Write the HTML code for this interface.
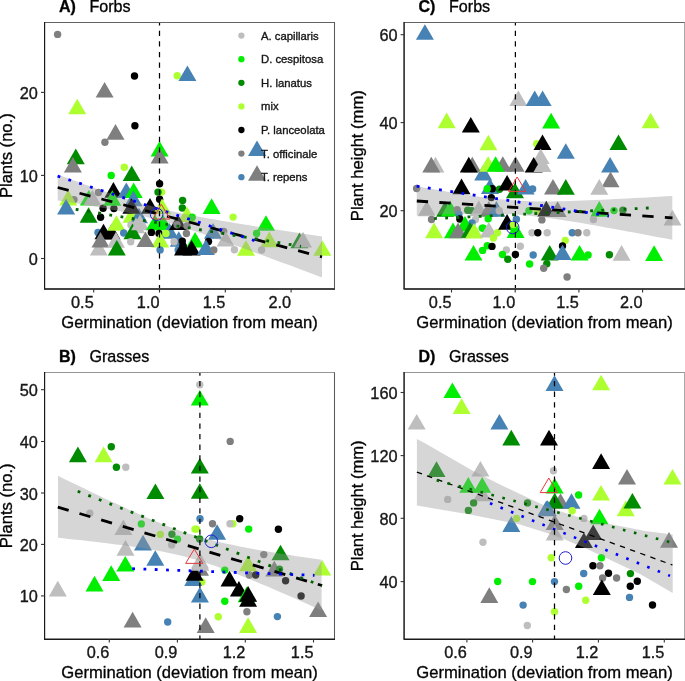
<!DOCTYPE html>
<html><head><meta charset="utf-8"><style>html,body{margin:0;padding:0;background:#fff;overflow:hidden}</style></head><body>
<svg width="685" height="681" viewBox="0 0 685 681" style="display:block;will-change:transform">
<style>text{stroke:#111;stroke-width:0.35px;stroke-linejoin:round}</style>
<rect width="685" height="681" fill="#fff"/>
<g id="panelA">
<clipPath id="clipA"><rect x="44.6" y="22.5" width="290.09999999999997" height="266.4"/></clipPath>
<g clip-path="url(#clipA)">
<circle cx="57.6" cy="34.4" r="3.7" fill="#7F7F7F"/>
<circle cx="134.5" cy="76.0" r="3.7" fill="#000000"/>
<polygon points="104.6,82.0 113.6,97.6 95.6,97.6" fill="#7F7F7F"/>
<polygon points="77.2,98.7 86.2,114.3 68.2,114.3" fill="#ADFF2F"/>
<circle cx="177.2" cy="75.7" r="3.7" fill="#ADFF2F"/>
<polygon points="187.4,65.5 196.4,81.1 178.4,81.1" fill="#4682B4"/>
<circle cx="134.9" cy="125.8" r="3.7" fill="#000000"/>
<polygon points="115.5,124.1 124.5,139.7 106.5,139.7" fill="#7F7F7F"/>
<circle cx="104.9" cy="142.3" r="3.7" fill="#7F7F7F"/>
<polygon points="75.8,148.6 84.8,164.2 66.8,164.2" fill="#008B00"/>
<polygon points="72.9,156.9 81.9,172.5 63.9,172.5" fill="#7F7F7F"/>
<circle cx="124.3" cy="167.2" r="3.7" fill="#ADFF2F"/>
<circle cx="111.2" cy="175.5" r="3.7" fill="#00EE00"/>
<polygon points="131.7,165.5 140.7,181.1 122.7,181.1" fill="#008B00"/>
<polygon points="159.6,141.0 168.6,156.6 150.6,156.6" fill="#00EE00"/>
<polygon points="159.6,148.0 168.6,163.6 150.6,163.6" fill="#7F7F7F"/>
<circle cx="159.6" cy="183.7" r="3.7" fill="#000000"/>
<circle cx="161.6" cy="192.1" r="3.7" fill="#ADFF2F"/>
<circle cx="158.0" cy="192.1" r="3.7" fill="#008B00"/>
<circle cx="159.6" cy="199.3" r="3.7" fill="#000000"/>
<circle cx="182.6" cy="200.4" r="3.7" fill="#008B00"/>
<circle cx="182.3" cy="208.0" r="3.7" fill="#008B00"/>
<polygon points="187.0,206.4 196.0,222.0 178.0,222.0" fill="#ADFF2F"/>
<polygon points="211.6,198.3 220.6,213.9 202.6,213.9" fill="#00EE00"/>
<circle cx="233.1" cy="217.1" r="3.7" fill="#ADFF2F"/>
<polygon points="266.0,215.2 275.0,230.8 257.0,230.8" fill="#00EE00"/>
<circle cx="256.6" cy="233.4" r="3.7" fill="#00EE00"/>
<polygon points="269.3,231.6 278.3,247.2 260.3,247.2" fill="#ADFF2F"/>
<circle cx="261.6" cy="250.0" r="3.7" fill="#BEBEBE"/>
<polygon points="299.5,232.6 308.5,248.2 290.5,248.2" fill="#008B00"/>
<polygon points="303.0,231.8 312.0,247.4 294.0,247.4" fill="#BEBEBE"/>
<polygon points="322.3,240.2 331.3,255.8 313.3,255.8" fill="#ADFF2F"/>
<polygon points="257.0,140.4 266.0,156.0 248.0,156.0" fill="#4682B4"/>
<polygon points="257.0,165.2 266.0,180.8 248.0,180.8" fill="#7F7F7F"/>
<circle cx="74.0" cy="199.6" r="3.7" fill="#7F7F7F"/>
<polygon points="68.2,189.9 77.2,205.5 59.2,205.5" fill="#ADFF2F"/>
<polygon points="66.1,198.8 75.1,214.4 57.1,214.4" fill="#4682B4"/>
<polygon points="88.8,189.9 97.8,205.5 79.8,205.5" fill="#00EE00"/>
<polygon points="92.4,189.9 101.4,205.5 83.4,205.5" fill="#BEBEBE"/>
<circle cx="98.5" cy="192.5" r="3.7" fill="#7F7F7F"/>
<polygon points="88.6,207.2 97.6,222.8 79.6,222.8" fill="#008B00"/>
<circle cx="103.1" cy="208.3" r="3.7" fill="#000000"/>
<circle cx="113.9" cy="208.6" r="3.7" fill="#000000"/>
<circle cx="100.6" cy="217.2" r="3.7" fill="#000000"/>
<polygon points="113.4,182.1 122.4,197.7 104.4,197.7" fill="#000000"/>
<polygon points="126.3,182.4 135.3,198.0 117.3,198.0" fill="#4682B4"/>
<polygon points="133.7,182.4 142.7,198.0 124.7,198.0" fill="#00EE00"/>
<polygon points="133.4,190.6 142.4,206.2 124.4,206.2" fill="#4682B4"/>
<polygon points="112.3,190.2 121.3,205.8 103.3,205.8" fill="#00EE00"/>
<circle cx="98.0" cy="232.5" r="3.7" fill="#4682B4"/>
<polygon points="103.5,223.7 112.5,239.3 94.5,239.3" fill="#000000"/>
<polygon points="111.5,223.9 120.5,239.5 102.5,239.5" fill="#000000"/>
<polygon points="116.4,215.2 125.4,230.8 107.4,230.8" fill="#ADFF2F"/>
<polygon points="131.5,207.1 140.5,222.7 122.5,222.7" fill="#ADFF2F"/>
<polygon points="139.0,207.7 148.0,223.3 130.0,223.3" fill="#4682B4"/>
<polygon points="131.4,198.2 140.4,213.8 122.4,213.8" fill="#000000"/>
<circle cx="123.7" cy="233.0" r="3.7" fill="#4682B4"/>
<polygon points="98.8,239.9 107.8,255.5 89.8,255.5" fill="#BEBEBE"/>
<polygon points="100.5,231.9 109.5,247.5 91.5,247.5" fill="#7F7F7F"/>
<polygon points="115.9,232.1 124.9,247.7 106.9,247.7" fill="#BEBEBE"/>
<circle cx="131.0" cy="225.0" r="3.7" fill="#BEBEBE"/>
<polygon points="136.0,217.6 145.0,233.2 127.0,233.2" fill="#BEBEBE"/>
<polygon points="132.5,223.6 141.5,239.2 123.5,239.2" fill="#008B00"/>
<circle cx="130.7" cy="241.8" r="3.7" fill="#BEBEBE"/>
<polygon points="116.8,239.9 125.8,255.5 107.8,255.5" fill="#008B00"/>
<polygon points="140.0,214.6 149.0,230.2 131.0,230.2" fill="#BEBEBE"/>
<polygon points="150.0,198.1 159.0,213.7 141.0,213.7" fill="#000000"/>
<polygon points="162.1,198.5 171.1,214.1 153.1,214.1" fill="#ADFF2F"/>
<polygon points="155.0,214.6 164.0,230.2 146.0,230.2" fill="#00EE00"/>
<polygon points="163.0,214.6 172.0,230.2 154.0,230.2" fill="#00EE00"/>
<polygon points="169.5,223.1 178.5,238.7 160.5,238.7" fill="#4682B4"/>
<circle cx="151.4" cy="232.4" r="3.7" fill="#000000"/>
<circle cx="159.0" cy="233.5" r="3.7" fill="#000000"/>
<circle cx="166.0" cy="233.5" r="3.7" fill="#ADFF2F"/>
<polygon points="160.2,232.0 169.2,247.6 151.2,247.6" fill="#ADFF2F"/>
<circle cx="160.1" cy="249.9" r="3.7" fill="#4682B4"/>
<polygon points="145.5,231.4 154.5,247.0 136.5,247.0" fill="#7F7F7F"/>
<circle cx="192.2" cy="217.2" r="3.7" fill="#00EE00"/>
<polygon points="178.0,214.4 187.0,230.0 169.0,230.0" fill="#000000"/>
<circle cx="177.0" cy="224.8" r="3.7" fill="#7F7F7F"/>
<circle cx="187.0" cy="226.0" r="3.7" fill="#7F7F7F"/>
<polygon points="178.8,231.2 187.8,246.8 169.8,246.8" fill="#4682B4"/>
<circle cx="174.1" cy="241.7" r="3.7" fill="#BEBEBE"/>
<circle cx="182.3" cy="241.1" r="3.7" fill="#000000"/>
<circle cx="182.9" cy="245.8" r="3.7" fill="#000000"/>
<circle cx="178.2" cy="249.9" r="3.7" fill="#4682B4"/>
<polygon points="195.1,232.0 204.1,247.6 186.1,247.6" fill="#00EE00"/>
<polygon points="183.0,239.8 192.0,255.4 174.0,255.4" fill="#000000"/>
<polygon points="191.6,240.0 200.6,255.6 182.6,255.6" fill="#000000"/>
<circle cx="186.4" cy="233.5" r="3.7" fill="#7F7F7F"/>
<polygon points="213.0,223.1 222.0,238.7 204.0,238.7" fill="#4682B4"/>
<circle cx="223.7" cy="231.5" r="3.7" fill="#7F7F7F"/>
<polygon points="225.6,230.9 234.6,246.5 216.6,246.5" fill="#BEBEBE"/>
<circle cx="208.5" cy="241.4" r="3.7" fill="#000000"/>
<polygon points="205.9,239.4 214.9,255.0 196.9,255.0" fill="#4682B4"/>
<circle cx="213.8" cy="249.9" r="3.7" fill="#7F7F7F"/>
<circle cx="234.4" cy="249.7" r="3.7" fill="#BEBEBE"/>
<polygon points="246.0,240.2 255.0,255.8 237.0,255.8" fill="#ADFF2F"/>
<polygon points="57.7,174.6 64.3,177.0 70.9,179.4 77.5,181.8 84.1,184.2 90.7,186.6 97.3,188.9 104.0,191.2 110.6,193.5 117.2,195.7 123.8,197.8 130.4,200.0 137.0,202.0 143.6,203.9 150.2,205.8 156.8,207.6 163.4,209.2 170.0,210.8 176.6,212.3 183.2,213.7 189.9,215.0 196.5,216.3 203.1,217.5 209.7,218.7 216.3,219.8 222.9,221.0 229.5,222.1 236.1,223.2 242.7,224.2 249.3,225.3 255.9,226.4 262.5,227.4 269.1,228.4 275.7,229.5 282.4,230.5 289.0,231.5 295.6,232.5 302.2,233.5 308.8,234.5 315.4,235.5 322.0,236.5 322.0,277.5 315.4,275.0 308.8,272.6 302.2,270.1 295.6,267.6 289.0,265.1 282.4,262.7 275.7,260.2 269.1,257.8 262.5,255.3 255.9,252.9 249.3,250.5 242.7,248.1 236.1,245.7 229.5,243.3 222.9,240.9 216.3,238.6 209.7,236.3 203.1,234.0 196.5,231.7 189.9,229.5 183.2,227.4 176.6,225.3 170.0,223.3 163.4,221.4 156.8,219.6 150.2,217.9 143.6,216.2 137.0,214.7 130.4,213.3 123.8,211.9 117.2,210.6 110.6,209.4 104.0,208.1 97.3,207.0 90.7,205.8 84.1,204.7 77.5,203.6 70.9,202.5 64.3,201.5 57.7,200.4" fill="#999999" fill-opacity="0.4"/>
<line x1="57.7" y1="187.5" x2="322" y2="257" stroke="#000" stroke-width="2.8" stroke-dasharray="11.3,11.3"/>
<line x1="75.7" y1="209.3" x2="301" y2="246.3" stroke="#006400" stroke-width="2.8" stroke-dasharray="2.8,8.56"/>
<line x1="57.6" y1="176.1" x2="254.5" y2="240.6" stroke="#0000FF" stroke-width="2.8" stroke-dasharray="2.8,8.56"/>
<line x1="159.5" y1="20.1" x2="159.5" y2="293.9" stroke="#000" stroke-width="1.25" stroke-dasharray="5.3,5.3"/>
<polygon points="161.3,204.3 170,219 153,219" fill="none" stroke="#E8383A" stroke-width="1.0"/>
<circle cx="156.6" cy="214.3" r="6.3" fill="none" stroke="#2020D0" stroke-width="1"/>
</g>
<line x1="44.6" y1="22.5" x2="335.0" y2="22.5" stroke="#636363" stroke-width="1.0"/>
<line x1="334.5" y1="22.5" x2="334.5" y2="289.0" stroke="#5a5a5a" stroke-width="1.05"/>
<line x1="44.0" y1="289.0" x2="335.0" y2="289.0" stroke="#444444" stroke-width="1.9"/>
<line x1="44.6" y1="22.0" x2="44.6" y2="289.0" stroke="#1a1a1a" stroke-width="1.2"/>
<line x1="93.7" y1="288.9" x2="93.7" y2="292.5" stroke="#333333" stroke-width="1.1"/>
<text x="93.7" y="307.9" font-size="16.3" text-anchor="end" font-family='"Liberation Sans", sans-serif' fill="#1a1a1a">0.5</text>
<line x1="159.5" y1="288.9" x2="159.5" y2="292.5" stroke="#333333" stroke-width="1.1"/>
<text x="159.5" y="307.9" font-size="16.3" text-anchor="end" font-family='"Liberation Sans", sans-serif' fill="#1a1a1a">1.0</text>
<line x1="225.3" y1="288.9" x2="225.3" y2="292.5" stroke="#333333" stroke-width="1.1"/>
<text x="225.3" y="307.9" font-size="16.3" text-anchor="end" font-family='"Liberation Sans", sans-serif' fill="#1a1a1a">1.5</text>
<line x1="291.1" y1="288.9" x2="291.1" y2="292.5" stroke="#333333" stroke-width="1.1"/>
<text x="291.1" y="307.9" font-size="16.3" text-anchor="end" font-family='"Liberation Sans", sans-serif' fill="#1a1a1a">2.0</text>
<line x1="41.0" y1="258.5" x2="44.6" y2="258.5" stroke="#333333" stroke-width="1.1"/>
<text x="37.9" y="265.0" font-size="16.3" text-anchor="end" font-family='"Liberation Sans", sans-serif' fill="#1a1a1a">0</text>
<line x1="41.0" y1="175.4" x2="44.6" y2="175.4" stroke="#333333" stroke-width="1.1"/>
<text x="37.9" y="181.9" font-size="16.3" text-anchor="end" font-family='"Liberation Sans", sans-serif' fill="#1a1a1a">10</text>
<line x1="41.0" y1="92.4" x2="44.6" y2="92.4" stroke="#333333" stroke-width="1.1"/>
<text x="37.9" y="98.9" font-size="16.3" text-anchor="end" font-family='"Liberation Sans", sans-serif' fill="#1a1a1a">20</text>
<text x="58.900000000000006" y="11.7" font-size="16" font-weight="bold" font-family='"Liberation Sans", sans-serif' fill="#000">A)</text>
<text x="89.4" y="11.7" font-size="16.1" font-family='"Liberation Sans", sans-serif' fill="#000">Forbs</text>
<text x="189.5" y="327.9" font-size="16.6" text-anchor="middle" font-family='"Liberation Sans", sans-serif' fill="#000">Germination (deviation from mean)</text>
<text transform="translate(12.4,155.7) rotate(-90)" x="0" y="0" font-size="16.6" text-anchor="middle" font-family='"Liberation Sans", sans-serif' fill="#000">Plants (no.)</text>
</g>
<g id="panelC">
<clipPath id="clipC"><rect x="404.2" y="22.5" width="281.00000000000006" height="266.4"/></clipPath>
<g clip-path="url(#clipC)">
<polygon points="424.9,24.2 433.9,39.8 415.9,39.8" fill="#4682B4"/>
<polygon points="446.7,112.6 455.7,128.2 437.7,128.2" fill="#ADFF2F"/>
<polygon points="470.8,116.9 479.8,132.5 461.8,132.5" fill="#000000"/>
<polygon points="488.4,134.7 497.4,150.3 479.4,150.3" fill="#ADFF2F"/>
<polygon points="518.3,90.5 527.3,106.1 509.3,106.1" fill="#BEBEBE"/>
<polygon points="534.7,90.5 543.7,106.1 525.7,106.1" fill="#4682B4"/>
<polygon points="542.6,90.5 551.6,106.1 533.6,106.1" fill="#4682B4"/>
<polygon points="551.1,112.8 560.1,128.4 542.1,128.4" fill="#00EE00"/>
<circle cx="536.7" cy="143.8" r="3.7" fill="#ADFF2F"/>
<polygon points="542.5,134.5 551.5,150.1 533.5,150.1" fill="#000000"/>
<polygon points="540.7,148.5 549.7,164.1 531.7,164.1" fill="#BEBEBE"/>
<polygon points="565.8,143.2 574.8,158.8 556.8,158.8" fill="#4682B4"/>
<polygon points="618.5,134.4 627.5,150.0 609.5,150.0" fill="#008B00"/>
<polygon points="650.6,112.7 659.6,128.3 641.6,128.3" fill="#ADFF2F"/>
<polygon points="610.1,156.9 619.1,172.5 601.1,172.5" fill="#4682B4"/>
<polygon points="610.5,171.6 619.5,187.2 601.5,187.2" fill="#7F7F7F"/>
<polygon points="483.2,164.8 492.2,180.4 474.2,180.4" fill="#4682B4"/>
<polygon points="435.5,156.8 444.5,172.4 426.5,172.4" fill="#BEBEBE"/>
<polygon points="431.3,156.8 440.3,172.4 422.3,172.4" fill="#7F7F7F"/>
<polygon points="472.3,156.8 481.3,172.4 463.3,172.4" fill="#7F7F7F"/>
<polygon points="468.8,156.8 477.8,172.4 459.8,172.4" fill="#000000"/>
<polygon points="502.8,156.2 511.8,171.8 493.8,171.8" fill="#7F7F7F"/>
<polygon points="515.6,156.2 524.6,171.8 506.6,171.8" fill="#7F7F7F"/>
<polygon points="488.1,156.2 497.1,171.8 479.1,171.8" fill="#ADFF2F"/>
<polygon points="495.6,156.2 504.6,171.8 486.6,171.8" fill="#00EE00"/>
<polygon points="533.7,157.0 542.7,172.6 524.7,172.6" fill="#000000"/>
<polygon points="542.5,156.4 551.5,172.0 533.5,172.0" fill="#BEBEBE"/>
<circle cx="416.6" cy="188.5" r="3.7" fill="#7F7F7F"/>
<polygon points="461.5,178.6 470.5,194.2 452.5,194.2" fill="#000000"/>
<polygon points="490.0,178.3 499.0,193.9 481.0,193.9" fill="#4682B4"/>
<circle cx="499.5" cy="189.2" r="3.7" fill="#008B00"/>
<circle cx="492.3" cy="188.8" r="3.7" fill="#000000"/>
<circle cx="487.2" cy="188.8" r="3.7" fill="#00EE00"/>
<polygon points="507.1,174.9 516.1,190.5 498.1,190.5" fill="#000000"/>
<polygon points="515.0,182.7 524.0,198.3 506.0,198.3" fill="#008B00"/>
<polygon points="525.6,179.0 534.6,194.6 516.6,194.6" fill="#4682B4"/>
<circle cx="532.6" cy="188.9" r="3.7" fill="#4682B4"/>
<circle cx="491.3" cy="197.6" r="3.7" fill="#000000"/>
<polygon points="553.0,178.9 562.0,194.5 544.0,194.5" fill="#7F7F7F"/>
<polygon points="565.8,179.1 574.8,194.7 556.8,194.7" fill="#008B00"/>
<polygon points="599.3,179.1 608.3,194.7 590.3,194.7" fill="#BEBEBE"/>
<polygon points="426.8,200.6 435.8,216.2 417.8,216.2" fill="#BEBEBE"/>
<polygon points="445.0,201.1 454.0,216.7 436.0,216.7" fill="#008B00"/>
<polygon points="450.1,200.6 459.1,216.2 441.1,216.2" fill="#00EE00"/>
<circle cx="457.2" cy="209.8" r="3.7" fill="#7F7F7F"/>
<circle cx="458.9" cy="214.3" r="3.7" fill="#4682B4"/>
<circle cx="467.7" cy="210.2" r="3.7" fill="#008B00"/>
<circle cx="471.8" cy="210.8" r="3.7" fill="#008B00"/>
<polygon points="478.8,200.6 487.8,216.2 469.8,216.2" fill="#BEBEBE"/>
<polygon points="488.8,201.1 497.8,216.7 479.8,216.7" fill="#7F7F7F"/>
<polygon points="496.4,201.1 505.4,216.7 487.4,216.7" fill="#4682B4"/>
<circle cx="499.3" cy="210.8" r="3.7" fill="#BEBEBE"/>
<circle cx="529.0" cy="210.8" r="3.7" fill="#00EE00"/>
<circle cx="537.0" cy="211.0" r="3.7" fill="#ADFF2F"/>
<polygon points="546.3,200.8 555.3,216.4 537.3,216.4" fill="#000000"/>
<polygon points="557.6,201.3 566.6,216.9 548.6,216.9" fill="#7F7F7F"/>
<polygon points="599.3,201.1 608.3,216.7 590.3,216.7" fill="#00EE00"/>
<circle cx="614.0" cy="210.6" r="3.7" fill="#00EE00"/>
<circle cx="622.9" cy="210.2" r="3.7" fill="#008B00"/>
<polygon points="672.5,209.8 681.5,225.4 663.5,225.4" fill="#BEBEBE"/>
<circle cx="431.5" cy="219.5" r="3.7" fill="#7F7F7F"/>
<polygon points="434.1,222.6 443.1,238.2 425.1,238.2" fill="#ADFF2F"/>
<circle cx="459.8" cy="219.0" r="3.7" fill="#000000"/>
<polygon points="465.0,216.0 474.0,231.6 456.0,231.6" fill="#00EE00"/>
<polygon points="453.0,222.6 462.0,238.2 444.0,238.2" fill="#00EE00"/>
<polygon points="458.0,222.6 467.0,238.2 449.0,238.2" fill="#7F7F7F"/>
<circle cx="475.5" cy="219.5" r="3.7" fill="#BEBEBE"/>
<circle cx="472.0" cy="223.0" r="3.7" fill="#4682B4"/>
<polygon points="470.0,222.1 479.0,237.7 461.0,237.7" fill="#008B00"/>
<polygon points="474.1,223.0 483.1,238.6 465.1,238.6" fill="#ADFF2F"/>
<circle cx="483.4" cy="228.3" r="3.7" fill="#00EE00"/>
<circle cx="482.3" cy="228.1" r="3.7" fill="#00EE00"/>
<circle cx="488.2" cy="218.7" r="3.7" fill="#00EE00"/>
<polygon points="488.8,221.9 497.8,237.5 479.8,237.5" fill="#BEBEBE"/>
<circle cx="497.5" cy="232.8" r="3.7" fill="#ADFF2F"/>
<circle cx="493.4" cy="238.0" r="3.7" fill="#ADFF2F"/>
<polygon points="507.1,214.1 516.1,229.7 498.1,229.7" fill="#000000"/>
<circle cx="516.4" cy="219.3" r="3.7" fill="#4682B4"/>
<polygon points="515.6,222.4 524.6,238.0 506.6,238.0" fill="#00EE00"/>
<circle cx="513.9" cy="228.7" r="3.7" fill="#00EE00"/>
<circle cx="513.3" cy="224.6" r="3.7" fill="#ADFF2F"/>
<circle cx="541.9" cy="219.9" r="3.7" fill="#7F7F7F"/>
<circle cx="532.0" cy="232.8" r="3.7" fill="#BEBEBE"/>
<circle cx="537.8" cy="232.8" r="3.7" fill="#000000"/>
<circle cx="547.2" cy="232.8" r="3.7" fill="#BEBEBE"/>
<circle cx="593.5" cy="219.6" r="3.7" fill="#BEBEBE"/>
<circle cx="572.2" cy="232.8" r="3.7" fill="#4682B4"/>
<circle cx="578.0" cy="232.8" r="3.7" fill="#7F7F7F"/>
<circle cx="586.8" cy="232.8" r="3.7" fill="#BEBEBE"/>
<circle cx="565.2" cy="240.5" r="3.7" fill="#ADFF2F"/>
<circle cx="562.5" cy="246.0" r="3.7" fill="#000000"/>
<polygon points="473.5,245.0 482.5,260.6 464.5,260.6" fill="#00EE00"/>
<circle cx="482.6" cy="250.4" r="3.7" fill="#00EE00"/>
<circle cx="487.3" cy="245.8" r="3.7" fill="#00EE00"/>
<circle cx="492.0" cy="246.4" r="3.7" fill="#000000"/>
<circle cx="506.4" cy="249.9" r="3.7" fill="#BEBEBE"/>
<circle cx="502.5" cy="254.5" r="3.7" fill="#00EE00"/>
<circle cx="507.8" cy="259.2" r="3.7" fill="#008B00"/>
<circle cx="515.4" cy="254.5" r="3.7" fill="#000000"/>
<circle cx="520.3" cy="246.2" r="3.7" fill="#BEBEBE"/>
<circle cx="533.2" cy="255.0" r="3.7" fill="#4682B4"/>
<circle cx="529.6" cy="264.0" r="3.7" fill="#00EE00"/>
<polygon points="549.7,245.0 558.7,260.6 540.7,260.6" fill="#008B00"/>
<circle cx="546.8" cy="263.7" r="3.7" fill="#008B00"/>
<circle cx="543.7" cy="268.2" r="3.7" fill="#7F7F7F"/>
<polygon points="562.5,244.4 571.5,260.0 553.5,260.0" fill="#4682B4"/>
<polygon points="579.6,245.0 588.6,260.6 570.6,260.6" fill="#00EE00"/>
<circle cx="588.1" cy="255.0" r="3.7" fill="#00EE00"/>
<circle cx="609.4" cy="254.7" r="3.7" fill="#008B00"/>
<polygon points="621.6,245.1 630.6,260.7 612.6,260.7" fill="#BEBEBE"/>
<polygon points="654.1,245.3 663.1,260.9 645.1,260.9" fill="#00EE00"/>
<circle cx="567.1" cy="277.0" r="3.7" fill="#7F7F7F"/>
<polygon points="416.8,186.2 423.2,187.4 429.6,188.6 436.0,189.7 442.4,190.8 448.7,191.9 455.1,193.0 461.5,194.0 467.9,195.0 474.3,196.0 480.7,196.9 487.1,197.7 493.4,198.5 499.8,199.2 506.2,199.8 512.6,200.3 519.0,200.7 525.4,201.0 531.8,201.2 538.2,201.4 544.5,201.4 550.9,201.4 557.3,201.3 563.7,201.2 570.1,201.0 576.5,200.8 582.9,200.6 589.3,200.3 595.6,200.0 602.0,199.8 608.4,199.4 614.8,199.1 621.2,198.8 627.6,198.5 634.0,198.1 640.4,197.8 646.8,197.4 653.1,197.0 659.5,196.7 665.9,196.3 672.3,195.9 672.3,239.8 665.9,238.6 659.5,237.4 653.1,236.2 646.8,235.0 640.4,233.8 634.0,232.6 627.6,231.4 621.2,230.2 614.8,229.0 608.4,227.9 602.0,226.7 595.6,225.6 589.3,224.4 582.9,223.3 576.5,222.3 570.1,221.2 563.7,220.2 557.3,219.2 550.9,218.3 544.5,217.4 538.2,216.7 531.8,215.9 525.4,215.3 519.0,214.8 512.6,214.3 506.2,214.0 499.8,213.8 493.4,213.6 487.1,213.6 480.7,213.6 474.3,213.6 467.9,213.7 461.5,213.9 455.1,214.1 448.7,214.3 442.4,214.6 436.0,214.8 429.6,215.1 423.2,215.4 416.8,215.8" fill="#999999" fill-opacity="0.4"/>
<line x1="416.8" y1="201" x2="672.5" y2="217.8" stroke="#000" stroke-width="2.8" stroke-dasharray="11.3,11.3"/>
<line x1="434.1" y1="218.6" x2="649" y2="208" stroke="#006400" stroke-width="2.8" stroke-dasharray="2.8,8.36"/>
<line x1="416.6" y1="186.2" x2="609" y2="216" stroke="#0000FF" stroke-width="2.8" stroke-dasharray="2.8,8.56"/>
<line x1="515.4" y1="20.1" x2="515.4" y2="293.9" stroke="#000" stroke-width="1.25" stroke-dasharray="5.3,5.3"/>
<polygon points="517.1,177 525.8,191.4 508.6,191.4" fill="none" stroke="#E8383A" stroke-width="1.0"/>
<circle cx="512.7" cy="227.5" r="6.3" fill="none" stroke="#2020D0" stroke-width="1"/>
</g>
<line x1="404.2" y1="22.5" x2="685.0" y2="22.5" stroke="#636363" stroke-width="1.0"/>
<line x1="684.5" y1="22.5" x2="684.5" y2="289.0" stroke="#aaaaaa" stroke-width="1.0"/>
<line x1="403.59999999999997" y1="289.0" x2="685.0" y2="289.0" stroke="#444444" stroke-width="1.9"/>
<line x1="404.1" y1="22.0" x2="404.1" y2="289.0" stroke="#2a2a2a" stroke-width="1.6"/>
<line x1="451.5" y1="288.9" x2="451.5" y2="292.5" stroke="#333333" stroke-width="1.1"/>
<text x="451.5" y="307.9" font-size="16.3" text-anchor="end" font-family='"Liberation Sans", sans-serif' fill="#1a1a1a">0.5</text>
<line x1="515.2" y1="288.9" x2="515.2" y2="292.5" stroke="#333333" stroke-width="1.1"/>
<text x="515.2" y="307.9" font-size="16.3" text-anchor="end" font-family='"Liberation Sans", sans-serif' fill="#1a1a1a">1.0</text>
<line x1="578.9" y1="288.9" x2="578.9" y2="292.5" stroke="#333333" stroke-width="1.1"/>
<text x="578.9" y="307.9" font-size="16.3" text-anchor="end" font-family='"Liberation Sans", sans-serif' fill="#1a1a1a">1.5</text>
<line x1="642.6" y1="288.9" x2="642.6" y2="292.5" stroke="#333333" stroke-width="1.1"/>
<text x="642.6" y="307.9" font-size="16.3" text-anchor="end" font-family='"Liberation Sans", sans-serif' fill="#1a1a1a">2.0</text>
<line x1="400.59999999999997" y1="210.7" x2="404.2" y2="210.7" stroke="#333333" stroke-width="1.1"/>
<text x="397.5" y="217.2" font-size="16.3" text-anchor="end" font-family='"Liberation Sans", sans-serif' fill="#1a1a1a">20</text>
<line x1="400.59999999999997" y1="122.6" x2="404.2" y2="122.6" stroke="#333333" stroke-width="1.1"/>
<text x="397.5" y="129.1" font-size="16.3" text-anchor="end" font-family='"Liberation Sans", sans-serif' fill="#1a1a1a">40</text>
<line x1="400.59999999999997" y1="34.7" x2="404.2" y2="34.7" stroke="#333333" stroke-width="1.1"/>
<text x="397.5" y="41.2" font-size="16.3" text-anchor="end" font-family='"Liberation Sans", sans-serif' fill="#1a1a1a">60</text>
<text x="418.5" y="11.7" font-size="16" font-weight="bold" font-family='"Liberation Sans", sans-serif' fill="#000">C)</text>
<text x="449.0" y="11.7" font-size="16.1" font-family='"Liberation Sans", sans-serif' fill="#000">Forbs</text>
<text x="544.5" y="327.9" font-size="16.6" text-anchor="middle" font-family='"Liberation Sans", sans-serif' fill="#000">Germination (deviation from mean)</text>
<text transform="translate(362.5,155.7) rotate(-90)" x="0" y="0" font-size="16.6" text-anchor="middle" font-family='"Liberation Sans", sans-serif' fill="#000">Plant height (mm)</text>
</g>
<g id="panelB">
<clipPath id="clipB"><rect x="44.6" y="372.8" width="290.09999999999997" height="266.09999999999997"/></clipPath>
<g clip-path="url(#clipB)">
<circle cx="199.8" cy="384.7" r="3.7" fill="#BEBEBE"/>
<polygon points="199.8,390.0 208.8,405.6 190.8,405.6" fill="#00EE00"/>
<polygon points="77.9,446.6 86.9,462.2 68.9,462.2" fill="#008B00"/>
<polygon points="103.6,446.6 112.6,462.2 94.6,462.2" fill="#ADFF2F"/>
<circle cx="111.3" cy="446.8" r="3.7" fill="#008B00"/>
<circle cx="116.4" cy="467.3" r="3.7" fill="#008B00"/>
<circle cx="125.8" cy="467.3" r="3.7" fill="#BEBEBE"/>
<polygon points="199.8,458.0 208.8,473.6 190.8,473.6" fill="#008B00"/>
<polygon points="155.4,483.4 164.4,499.0 146.4,499.0" fill="#008B00"/>
<polygon points="199.8,483.2 208.8,498.8 190.8,498.8" fill="#008B00"/>
<circle cx="230.2" cy="441.4" r="3.7" fill="#7F7F7F"/>
<circle cx="89.8" cy="513.2" r="3.7" fill="#BEBEBE"/>
<polygon points="57.8,580.8 66.8,596.4 48.8,596.4" fill="#BEBEBE"/>
<polygon points="94.5,575.8 103.5,591.4 85.5,591.4" fill="#00EE00"/>
<polygon points="111.2,565.3 120.2,580.9 102.2,580.9" fill="#00EE00"/>
<polygon points="125.3,556.0 134.3,571.6 116.3,571.6" fill="#00EE00"/>
<polygon points="123.4,519.4 132.4,535.0 114.4,535.0" fill="#BEBEBE"/>
<polygon points="125.5,540.1 134.5,555.7 116.5,555.7" fill="#BEBEBE"/>
<circle cx="141.3" cy="523.9" r="3.7" fill="#00EE00"/>
<circle cx="160.3" cy="534.4" r="3.7" fill="#ADFF2F"/>
<circle cx="171.9" cy="534.2" r="3.7" fill="#008B00"/>
<circle cx="171.7" cy="544.9" r="3.7" fill="#BEBEBE"/>
<circle cx="177.5" cy="539.3" r="3.7" fill="#00EE00"/>
<polygon points="143.0,534.8 152.0,550.4 134.0,550.4" fill="#4682B4"/>
<polygon points="155.3,550.2 164.3,565.8 146.3,565.8" fill="#4682B4"/>
<circle cx="195.0" cy="529.1" r="3.7" fill="#ADFF2F"/>
<circle cx="200.0" cy="518.8" r="3.7" fill="#4682B4"/>
<circle cx="212.5" cy="523.8" r="3.7" fill="#7F7F7F"/>
<circle cx="196.4" cy="529.1" r="3.7" fill="#ADFF2F"/>
<polygon points="217.1,524.2 226.1,539.8 208.1,539.8" fill="#4682B4"/>
<circle cx="199.6" cy="539.0" r="3.7" fill="#008B00"/>
<circle cx="232.9" cy="523.8" r="3.7" fill="#ADFF2F"/>
<circle cx="230.0" cy="523.8" r="3.7" fill="#BEBEBE"/>
<circle cx="239.7" cy="518.8" r="3.7" fill="#000000"/>
<circle cx="248.7" cy="529.1" r="3.7" fill="#00EE00"/>
<circle cx="278.4" cy="529.3" r="3.7" fill="#000000"/>
<circle cx="263.8" cy="554.6" r="3.7" fill="#7F7F7F"/>
<polygon points="280.5,544.7 289.5,560.3 271.5,560.3" fill="#008B00"/>
<polygon points="274.3,560.8 283.3,576.4 265.3,576.4" fill="#7F7F7F"/>
<polygon points="322.2,559.9 331.2,575.5 313.2,575.5" fill="#ADFF2F"/>
<circle cx="279.5" cy="569.3" r="3.7" fill="#008B00"/>
<circle cx="201.8" cy="582.0" r="3.7" fill="#ADFF2F"/>
<polygon points="193.2,570.4 202.2,586.0 184.2,586.0" fill="#4682B4"/>
<polygon points="200.0,560.1 209.0,575.7 191.0,575.7" fill="#7F7F7F"/>
<polygon points="194.5,565.2 203.5,580.8 185.5,580.8" fill="#000000"/>
<polygon points="200.0,552.8 209.0,568.4 191.0,568.4" fill="#BEBEBE"/>
<polygon points="200.3,555.2 209.3,570.8 191.3,570.8" fill="#BEBEBE"/>
<polygon points="199.9,586.8 208.9,602.4 190.9,602.4" fill="#4682B4"/>
<circle cx="224.8" cy="570.1" r="3.7" fill="#00EE00"/>
<polygon points="229.5,570.8 238.5,586.4 220.5,586.4" fill="#000000"/>
<polygon points="238.9,580.9 247.9,596.5 229.9,596.5" fill="#000000"/>
<polygon points="246.6,586.6 255.6,602.2 237.6,602.2" fill="#00EE00"/>
<polygon points="248.1,586.1 257.1,601.7 239.1,601.7" fill="#000000"/>
<polygon points="248.1,591.2 257.1,606.8 239.1,606.8" fill="#000000"/>
<circle cx="224.8" cy="601.3" r="3.7" fill="#00EE00"/>
<polygon points="248.1,555.6 257.1,571.2 239.1,571.2" fill="#ADFF2F"/>
<circle cx="249.3" cy="575.0" r="3.7" fill="#7F7F7F"/>
<circle cx="255.7" cy="575.0" r="3.7" fill="#000000"/>
<circle cx="285.6" cy="580.8" r="3.7" fill="#000000"/>
<circle cx="301.1" cy="596.0" r="3.7" fill="#000000"/>
<polygon points="318.1,601.4 327.1,617.0 309.1,617.0" fill="#7F7F7F"/>
<circle cx="277.4" cy="616.6" r="3.7" fill="#4682B4"/>
<polygon points="132.6,611.8 141.6,627.4 123.6,627.4" fill="#7F7F7F"/>
<circle cx="167.7" cy="622.0" r="3.7" fill="#4682B4"/>
<polygon points="205.7,617.3 214.7,632.9 196.7,632.9" fill="#7F7F7F"/>
<circle cx="218.3" cy="616.8" r="3.7" fill="#ADFF2F"/>
<circle cx="246.9" cy="611.7" r="3.7" fill="#7F7F7F"/>
<polygon points="248.1,617.3 257.1,632.9 239.1,632.9" fill="#ADFF2F"/>
<polygon points="58.0,475.8 63.3,478.4 68.5,481.0 73.8,483.5 79.1,486.1 84.4,488.6 89.6,491.2 94.9,493.7 100.2,496.2 105.4,498.7 110.7,501.2 116.0,503.6 121.3,506.1 126.5,508.5 131.8,510.9 137.1,513.3 142.4,515.6 147.6,517.9 152.9,520.1 158.2,522.3 163.4,524.4 168.7,526.5 174.0,528.5 179.3,530.4 184.5,532.2 189.8,533.9 195.1,535.5 200.3,537.0 205.6,538.5 210.9,539.9 216.2,541.2 221.4,542.5 226.7,543.7 232.0,544.8 237.2,545.9 242.5,547.0 247.8,548.0 253.1,549.0 258.3,549.9 263.6,550.8 268.9,551.7 274.2,552.6 279.4,553.5 284.7,554.3 290.0,555.1 295.2,555.9 300.5,556.7 305.8,557.5 311.1,558.3 316.3,559.0 321.6,559.8 321.6,610.4 316.3,608.0 311.1,605.7 305.8,603.3 300.5,600.9 295.2,598.6 290.0,596.3 284.7,594.0 279.4,591.7 274.2,589.4 268.9,587.1 263.6,584.9 258.3,582.7 253.1,580.5 247.8,578.3 242.5,576.2 237.2,574.2 232.0,572.1 226.7,570.1 221.4,568.2 216.2,566.3 210.9,564.5 205.6,562.8 200.3,561.1 195.1,559.5 189.8,558.0 184.5,556.6 179.3,555.3 174.0,554.0 168.7,552.9 163.4,551.8 158.2,550.8 152.9,549.9 147.6,549.0 142.4,548.1 137.1,547.3 131.8,546.5 126.5,545.8 121.3,545.1 116.0,544.4 110.7,543.7 105.4,543.1 100.2,542.5 94.9,541.8 89.6,541.2 84.4,540.6 79.1,540.1 73.8,539.5 68.5,538.9 63.3,538.3 58.0,537.8" fill="#999999" fill-opacity="0.4"/>
<line x1="57.8" y1="507.1" x2="322" y2="585.5" stroke="#000" stroke-width="2.8" stroke-dasharray="11.3,11.3"/>
<line x1="77.7" y1="491.3" x2="322" y2="585.9" stroke="#006400" stroke-width="2.8" stroke-dasharray="2.8,8.56"/>
<line x1="132.2" y1="568.7" x2="314.5" y2="575.3" stroke="#0000FF" stroke-width="2.8" stroke-dasharray="2.8,8.5"/>
<line x1="199.9" y1="370.40000000000003" x2="199.9" y2="643.9" stroke="#000" stroke-width="1.25" stroke-dasharray="5.3,5.3"/>
<polygon points="194.3,549.1 202.8,563.4 185.6,563.4" fill="none" stroke="#E8383A" stroke-width="1.0"/>
<circle cx="211.3" cy="541.3" r="6.3" fill="none" stroke="#2020D0" stroke-width="1"/>
</g>
<line x1="44.6" y1="372.5" x2="335.0" y2="372.5" stroke="#959595" stroke-width="1.0"/>
<line x1="334.5" y1="372.5" x2="334.5" y2="639.2" stroke="#5a5a5a" stroke-width="1.05"/>
<line x1="44.0" y1="639.2" x2="335.0" y2="639.2" stroke="#1a1a1a" stroke-width="1.5"/>
<line x1="44.6" y1="372.0" x2="44.6" y2="639.2" stroke="#1a1a1a" stroke-width="1.2"/>
<line x1="109.3" y1="638.9" x2="109.3" y2="642.5" stroke="#333333" stroke-width="1.1"/>
<text x="109.3" y="657.9" font-size="16.3" text-anchor="end" font-family='"Liberation Sans", sans-serif' fill="#1a1a1a">0.6</text>
<line x1="177.4" y1="638.9" x2="177.4" y2="642.5" stroke="#333333" stroke-width="1.1"/>
<text x="177.4" y="657.9" font-size="16.3" text-anchor="end" font-family='"Liberation Sans", sans-serif' fill="#1a1a1a">0.9</text>
<line x1="245.3" y1="638.9" x2="245.3" y2="642.5" stroke="#333333" stroke-width="1.1"/>
<text x="245.3" y="657.9" font-size="16.3" text-anchor="end" font-family='"Liberation Sans", sans-serif' fill="#1a1a1a">1.2</text>
<line x1="313.5" y1="638.9" x2="313.5" y2="642.5" stroke="#333333" stroke-width="1.1"/>
<text x="313.5" y="657.9" font-size="16.3" text-anchor="end" font-family='"Liberation Sans", sans-serif' fill="#1a1a1a">1.5</text>
<line x1="41.0" y1="595.9" x2="44.6" y2="595.9" stroke="#333333" stroke-width="1.1"/>
<text x="37.9" y="602.4" font-size="16.3" text-anchor="end" font-family='"Liberation Sans", sans-serif' fill="#1a1a1a">10</text>
<line x1="41.0" y1="544.4" x2="44.6" y2="544.4" stroke="#333333" stroke-width="1.1"/>
<text x="37.9" y="550.9" font-size="16.3" text-anchor="end" font-family='"Liberation Sans", sans-serif' fill="#1a1a1a">20</text>
<line x1="41.0" y1="493.0" x2="44.6" y2="493.0" stroke="#333333" stroke-width="1.1"/>
<text x="37.9" y="499.5" font-size="16.3" text-anchor="end" font-family='"Liberation Sans", sans-serif' fill="#1a1a1a">30</text>
<line x1="41.0" y1="441.5" x2="44.6" y2="441.5" stroke="#333333" stroke-width="1.1"/>
<text x="37.9" y="448.0" font-size="16.3" text-anchor="end" font-family='"Liberation Sans", sans-serif' fill="#1a1a1a">40</text>
<line x1="41.0" y1="389.7" x2="44.6" y2="389.7" stroke="#333333" stroke-width="1.1"/>
<text x="37.9" y="396.2" font-size="16.3" text-anchor="end" font-family='"Liberation Sans", sans-serif' fill="#1a1a1a">50</text>
<text x="58.900000000000006" y="362.0" font-size="16" font-weight="bold" font-family='"Liberation Sans", sans-serif' fill="#000">B)</text>
<text x="89.4" y="362.0" font-size="16.1" font-family='"Liberation Sans", sans-serif' fill="#000">Grasses</text>
<text x="189.5" y="677.9" font-size="16.6" text-anchor="middle" font-family='"Liberation Sans", sans-serif' fill="#000">Germination (deviation from mean)</text>
<text transform="translate(12.4,505.85) rotate(-90)" x="0" y="0" font-size="16.6" text-anchor="middle" font-family='"Liberation Sans", sans-serif' fill="#000">Plants (no.)</text>
</g>
<g id="panelD">
<clipPath id="clipD"><rect x="404.2" y="372.8" width="281.00000000000006" height="266.09999999999997"/></clipPath>
<g clip-path="url(#clipD)">
<polygon points="452.4,382.5 461.4,398.1 443.4,398.1" fill="#00EE00"/>
<polygon points="461.6,398.3 470.6,413.9 452.6,413.9" fill="#ADFF2F"/>
<polygon points="416.7,414.0 425.7,429.6 407.7,429.6" fill="#BEBEBE"/>
<polygon points="554.5,375.3 563.5,390.9 545.5,390.9" fill="#4682B4"/>
<polygon points="499.4,414.0 508.4,429.6 490.4,429.6" fill="#4682B4"/>
<polygon points="511.3,429.8 520.3,445.4 502.3,445.4" fill="#008B00"/>
<polygon points="549.0,429.8 558.0,445.4 540.0,445.4" fill="#000000"/>
<polygon points="601.1,374.7 610.1,390.3 592.1,390.3" fill="#ADFF2F"/>
<polygon points="601.1,453.3 610.1,468.9 592.1,468.9" fill="#000000"/>
<polygon points="627.0,469.0 636.0,484.6 618.0,484.6" fill="#7F7F7F"/>
<polygon points="672.5,469.0 681.5,484.6 663.5,484.6" fill="#ADFF2F"/>
<polygon points="436.5,461.3 445.5,476.9 427.5,476.9" fill="#008B00"/>
<polygon points="468.3,477.1 477.3,492.7 459.3,492.7" fill="#00EE00"/>
<polygon points="480.4,461.0 489.4,476.6 471.4,476.6" fill="#BEBEBE"/>
<polygon points="482.0,485.6 491.0,501.2 473.0,501.2" fill="#BEBEBE"/>
<polygon points="482.2,477.1 491.2,492.7 473.2,492.7" fill="#00EE00"/>
<circle cx="447.7" cy="499.4" r="3.7" fill="#BEBEBE"/>
<circle cx="473.6" cy="502.9" r="3.7" fill="#008B00"/>
<circle cx="468.4" cy="510.4" r="3.7" fill="#008B00"/>
<circle cx="527.5" cy="502.9" r="3.7" fill="#008B00"/>
<circle cx="553.5" cy="470.8" r="3.7" fill="#BEBEBE"/>
<polygon points="554.7,478.0 563.7,493.6 545.7,493.6" fill="#00EE00"/>
<polygon points="560.5,493.2 569.5,508.8 551.5,508.8" fill="#7F7F7F"/>
<polygon points="554.7,492.8 563.7,508.4 545.7,508.4" fill="#008B00"/>
<polygon points="571.5,493.2 580.5,508.8 562.5,508.8" fill="#4682B4"/>
<polygon points="546.3,500.6 555.3,516.2 537.3,516.2" fill="#4682B4"/>
<polygon points="547.7,500.3 556.7,515.9 538.7,515.9" fill="#4682B4"/>
<polygon points="601.0,485.0 610.0,500.6 592.0,500.6" fill="#ADFF2F"/>
<circle cx="578.6" cy="495.0" r="3.7" fill="#00EE00"/>
<polygon points="625.8,500.6 634.8,516.2 616.8,516.2" fill="#ADFF2F"/>
<polygon points="632.4,492.9 641.4,508.5 623.4,508.5" fill="#008B00"/>
<polygon points="599.5,508.7 608.5,524.3 590.5,524.3" fill="#00EE00"/>
<circle cx="572.2" cy="510.8" r="3.7" fill="#ADFF2F"/>
<polygon points="511.3,516.3 520.3,531.9 502.3,531.9" fill="#4682B4"/>
<circle cx="516.6" cy="518.4" r="3.7" fill="#ADFF2F"/>
<polygon points="554.7,514.3 563.7,529.9 545.7,529.9" fill="#7F7F7F"/>
<polygon points="554.7,524.8 563.7,540.4 545.7,540.4" fill="#BEBEBE"/>
<circle cx="583.9" cy="518.4" r="3.7" fill="#BEBEBE"/>
<polygon points="583.9,532.4 592.9,548.0 574.9,548.0" fill="#000000"/>
<polygon points="593.2,524.4 602.2,540.0 584.2,540.0" fill="#000000"/>
<polygon points="669.0,532.1 678.0,547.7 660.0,547.7" fill="#7F7F7F"/>
<circle cx="483.0" cy="542.2" r="3.7" fill="#BEBEBE"/>
<circle cx="497.7" cy="581.5" r="3.7" fill="#00EE00"/>
<polygon points="489.3,587.3 498.3,602.9 480.3,602.9" fill="#7F7F7F"/>
<circle cx="523.1" cy="605.1" r="3.7" fill="#4682B4"/>
<circle cx="551.2" cy="557.7" r="3.7" fill="#ADFF2F"/>
<circle cx="583.7" cy="573.5" r="3.7" fill="#4682B4"/>
<circle cx="532.5" cy="581.6" r="3.7" fill="#00EE00"/>
<circle cx="554.5" cy="581.6" r="3.7" fill="#4682B4"/>
<circle cx="566.4" cy="589.5" r="3.7" fill="#7F7F7F"/>
<circle cx="578.7" cy="586.3" r="3.7" fill="#00EE00"/>
<circle cx="585.7" cy="600.3" r="3.7" fill="#ADFF2F"/>
<circle cx="554.5" cy="611.7" r="3.7" fill="#ADFF2F"/>
<circle cx="527.3" cy="625.5" r="3.7" fill="#BEBEBE"/>
<circle cx="601.4" cy="557.8" r="3.7" fill="#00EE00"/>
<circle cx="592.9" cy="565.7" r="3.7" fill="#000000"/>
<circle cx="599.9" cy="565.7" r="3.7" fill="#7F7F7F"/>
<circle cx="608.5" cy="573.3" r="3.7" fill="#000000"/>
<circle cx="602.6" cy="578.0" r="3.7" fill="#7F7F7F"/>
<circle cx="616.6" cy="578.0" r="3.7" fill="#7F7F7F"/>
<polygon points="601.8,579.4 610.8,595.0 592.8,595.0" fill="#000000"/>
<circle cx="630.4" cy="573.6" r="3.7" fill="#008B00"/>
<circle cx="637.3" cy="581.3" r="3.7" fill="#000000"/>
<circle cx="630.3" cy="586.3" r="3.7" fill="#000000"/>
<circle cx="629.5" cy="597.4" r="3.7" fill="#4682B4"/>
<circle cx="652.5" cy="605.0" r="3.7" fill="#000000"/>
<polygon points="416.9,439.0 425.0,443.2 474.1,471.5 500.0,484.4 520.6,494.2 541.1,504.0 560.0,511.2 570.0,514.4 591.0,521.0 608.0,523.8 630.0,528.0 645.0,531.0 672.7,534.4 672.7,593.0 640.0,574.0 610.4,560.0 585.0,548.0 560.0,537.6 546.2,532.7 520.0,524.6 500.0,520.4 470.0,514.6 440.0,509.6 416.9,505.4" fill="#999999" fill-opacity="0.4"/>
<line x1="416.9" y1="472.1" x2="672.5" y2="565" stroke="#000" stroke-width="1.3" stroke-dasharray="5.4,5.4"/>
<line x1="436.6" y1="480.3" x2="670" y2="542.2" stroke="#006400" stroke-width="2.6" stroke-dasharray="2.6,8.74"/>
<line x1="490" y1="503.3" x2="670" y2="575.9" stroke="#0000FF" stroke-width="2.6" stroke-dasharray="2.6,8.7"/>
<line x1="554.5" y1="370.40000000000003" x2="554.5" y2="643.9" stroke="#000" stroke-width="1.25" stroke-dasharray="5.3,5.3"/>
<polygon points="548.8,478 557.4,492.6 540.2,492.6" fill="none" stroke="#E8383A" stroke-width="1.0"/>
<circle cx="565.5" cy="558" r="6.3" fill="none" stroke="#2020D0" stroke-width="1"/>
</g>
<line x1="404.2" y1="372.5" x2="685.0" y2="372.5" stroke="#959595" stroke-width="1.0"/>
<line x1="684.5" y1="372.5" x2="684.5" y2="639.2" stroke="#aaaaaa" stroke-width="1.0"/>
<line x1="403.59999999999997" y1="639.2" x2="685.0" y2="639.2" stroke="#1a1a1a" stroke-width="1.5"/>
<line x1="404.1" y1="372.0" x2="404.1" y2="639.2" stroke="#2a2a2a" stroke-width="1.6"/>
<line x1="466.9" y1="638.9" x2="466.9" y2="642.5" stroke="#333333" stroke-width="1.1"/>
<text x="466.9" y="657.9" font-size="16.3" text-anchor="end" font-family='"Liberation Sans", sans-serif' fill="#1a1a1a">0.6</text>
<line x1="532.6" y1="638.9" x2="532.6" y2="642.5" stroke="#333333" stroke-width="1.1"/>
<text x="532.6" y="657.9" font-size="16.3" text-anchor="end" font-family='"Liberation Sans", sans-serif' fill="#1a1a1a">0.9</text>
<line x1="598.4" y1="638.9" x2="598.4" y2="642.5" stroke="#333333" stroke-width="1.1"/>
<text x="598.4" y="657.9" font-size="16.3" text-anchor="end" font-family='"Liberation Sans", sans-serif' fill="#1a1a1a">1.2</text>
<line x1="664.3" y1="638.9" x2="664.3" y2="642.5" stroke="#333333" stroke-width="1.1"/>
<text x="664.3" y="657.9" font-size="16.3" text-anchor="end" font-family='"Liberation Sans", sans-serif' fill="#1a1a1a">1.5</text>
<line x1="400.59999999999997" y1="581.6" x2="404.2" y2="581.6" stroke="#333333" stroke-width="1.1"/>
<text x="397.5" y="588.1" font-size="16.3" text-anchor="end" font-family='"Liberation Sans", sans-serif' fill="#1a1a1a">40</text>
<line x1="400.59999999999997" y1="518.3" x2="404.2" y2="518.3" stroke="#333333" stroke-width="1.1"/>
<text x="397.5" y="524.8" font-size="16.3" text-anchor="end" font-family='"Liberation Sans", sans-serif' fill="#1a1a1a">80</text>
<line x1="400.59999999999997" y1="455.6" x2="404.2" y2="455.6" stroke="#333333" stroke-width="1.1"/>
<text x="397.5" y="462.1" font-size="16.3" text-anchor="end" font-family='"Liberation Sans", sans-serif' fill="#1a1a1a">120</text>
<line x1="400.59999999999997" y1="392.5" x2="404.2" y2="392.5" stroke="#333333" stroke-width="1.1"/>
<text x="397.5" y="399.0" font-size="16.3" text-anchor="end" font-family='"Liberation Sans", sans-serif' fill="#1a1a1a">160</text>
<text x="418.5" y="362.0" font-size="16" font-weight="bold" font-family='"Liberation Sans", sans-serif' fill="#000">D)</text>
<text x="449.0" y="362.0" font-size="16.1" font-family='"Liberation Sans", sans-serif' fill="#000">Grasses</text>
<text x="544.5" y="677.9" font-size="16.6" text-anchor="middle" font-family='"Liberation Sans", sans-serif' fill="#000">Germination (deviation from mean)</text>
<text transform="translate(362.5,505.85) rotate(-90)" x="0" y="0" font-size="16.6" text-anchor="middle" font-family='"Liberation Sans", sans-serif' fill="#000">Plant height (mm)</text>
</g>
<circle cx="241.4" cy="35.6" r="3.15" fill="#BEBEBE"/>
<text x="261" y="39.6" font-size="11.3" font-family='"Liberation Sans", sans-serif' fill="#1a1a1a">A. capillaris</text>
<circle cx="241.4" cy="59.2" r="3.15" fill="#00EE00"/>
<text x="261" y="63.2" font-size="11.3" font-family='"Liberation Sans", sans-serif' fill="#1a1a1a">D. cespitosa</text>
<circle cx="241.4" cy="82.8" r="3.15" fill="#008B00"/>
<text x="261" y="86.8" font-size="11.3" font-family='"Liberation Sans", sans-serif' fill="#1a1a1a">H. lanatus</text>
<circle cx="241.4" cy="106.4" r="3.15" fill="#ADFF2F"/>
<text x="261" y="110.4" font-size="11.3" font-family='"Liberation Sans", sans-serif' fill="#1a1a1a">mix</text>
<circle cx="241.4" cy="130.0" r="3.15" fill="#000000"/>
<text x="261" y="134.0" font-size="11.3" font-family='"Liberation Sans", sans-serif' fill="#1a1a1a">P. lanceolata</text>
<circle cx="241.4" cy="153.6" r="3.15" fill="#7F7F7F"/>
<text x="261" y="157.6" font-size="11.3" font-family='"Liberation Sans", sans-serif' fill="#1a1a1a">T. officinale</text>
<circle cx="241.4" cy="177.2" r="3.15" fill="#4682B4"/>
<text x="261" y="181.2" font-size="11.3" font-family='"Liberation Sans", sans-serif' fill="#1a1a1a">T. repens</text>
</svg>
</body></html>
